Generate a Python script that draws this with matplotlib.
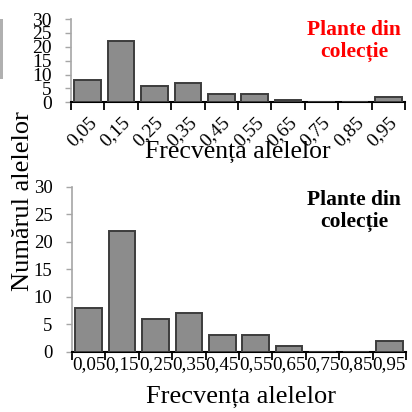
import matplotlib
matplotlib.use("Agg")
import matplotlib.pyplot as plt
from matplotlib.patches import Rectangle
import numpy as np

plt.rcParams['font.family'] = ['Liberation Serif', 'DejaVu Serif']

categories = ["0,05", "0,15", "0,25", "0,35", "0,45", "0,55", "0,65", "0,75", "0,85", "0,95"]
counts = [8, 22, 6, 7, 3, 3, 1, 0, 0, 2]
yticks = [0, 5, 10, 15, 20, 25, 30]
xlabel = "Frecvența alelelor"
ylabel = "Numărul alelelor"
title = "Plante din\ncolecție"

W = 412
fig = plt.figure(figsize=(W / 100, W / 100), dpi=100)

def px(x0, y0, x1, y1):
    return [x0 / W, 1 - y1 / W, (x1 - x0) / W, (y1 - y0) / W]

bar_face = "#8c8c8c"
bar_edge = "#3c3c3c"

def style(ax, fs):
    x = np.arange(len(categories)) + 0.5
    ax.bar(x, counts, width=0.8, color=bar_face, edgecolor=bar_edge, linewidth=1.4, zorder=3)
    ax.set_xlim(0, len(categories))
    ax.set_ylim(0, 30)
    ax.set_yticks(yticks)
    ax.set_yticklabels([str(v) for v in yticks], fontsize=fs)
    ax.set_xticks(np.arange(len(categories) + 1))
    ax.set_xticklabels([])
    ax.set_xticks(x, minor=True)
    ax.tick_params(axis='x', which='major', direction='out', length=6, width=1.3, color='black')
    ax.tick_params(axis='x', which='minor', length=0)
    ax.tick_params(axis='y', direction='out', length=4.5, width=1, color='#a6a6a6', pad=9.5)
    for s in ['top', 'right']:
        ax.spines[s].set_visible(False)
    ax.spines['left'].set_color('#a6a6a6')
    ax.spines['left'].set_linewidth(1.2)
    ax.spines['bottom'].set_color('black')
    ax.spines['bottom'].set_linewidth(1.5)
    return x

# top chart
ax1 = fig.add_axes(px(71, 19, 405, 102.3))
x = style(ax1, 14)
ax1.set_xticklabels(categories, minor=True, rotation=45, ha='right', va='top',
                    rotation_mode='anchor', fontsize=14)
ax1.tick_params(axis='x', which='minor', pad=8)

# bottom chart
ax2 = fig.add_axes(px(72, 186.7, 406, 351.7))
style(ax2, 13.5)
ax2.set_xticklabels(categories, minor=True, fontsize=13.8)
ax2.tick_params(axis='x', which='minor', pad=3)

fig.text(238 / W, 1 - 152 / W, xlabel, fontsize=18.5, ha='center', va='center')
fig.text(241 / W, 1 - 397 / W, xlabel, fontsize=19, ha='center', va='center')
fig.text(23 / W, 1 - 201 / W, ylabel, fontsize=19, rotation=90, ha='center', va='center')

fig.text(354 / W, 1 - 41 / W, title, fontsize=15.5, fontweight='bold', color='red',
         ha='center', va='center', linespacing=1.15)
fig.text(354 / W, 1 - 211 / W, title, fontsize=15.5, fontweight='bold', color='black',
         ha='center', va='center', linespacing=1.15)

fig.patches.append(Rectangle((0, 1 - 79 / W), 2.5 / W, 60 / W, transform=fig.transFigure,
                             facecolor='#b0b0b0', edgecolor='none'))

fig.savefig("out.png", dpi=100)
